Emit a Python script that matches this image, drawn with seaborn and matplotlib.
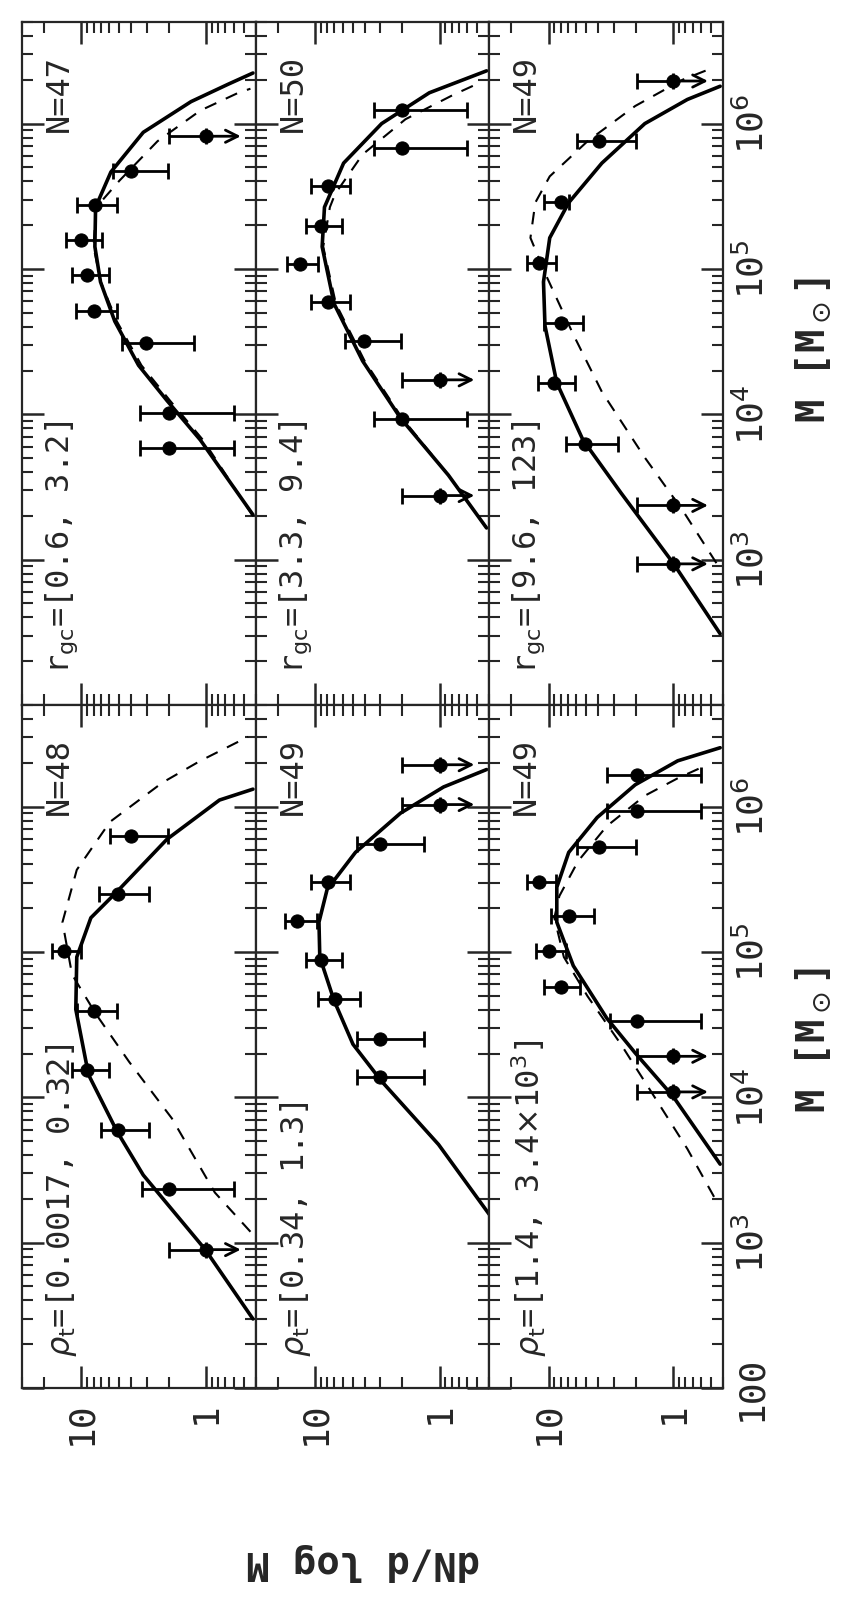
import numpy as np
import matplotlib
matplotlib.use("Agg")
import matplotlib.pyplot as plt
from matplotlib.ticker import LogLocator, NullFormatter, FixedFormatter, FixedLocator
import seaborn as sns

sns.set_style("ticks")
plt.rcParams['font.family'] = ['DejaVu Sans Mono', 'DejaVu Sans']
plt.rcParams['mathtext.fontset'] = 'dejavusans'

# ---- data (log10 M, dN/dlogM) ----
# top block: r_gc bins ; bottom block: rho_t bins
r_bins = ['[0.6, 3.2]', '[3.3, 9.4]', '[9.6, 123]']
r_counts = [47, 50, 49]
rho_bins = ['[0.0017, 0.32]', '[0.34, 1.3]', r'[1.4, 3.4$\times$10$^3$]']
rho_counts = [48, 49, 49]

# detections: logM, dN, upper end of bar, lower end of bar
R0_logm = [5.675, 5.442, 5.198, 4.959, 4.714, 4.493, 4.009, 3.770]
R0_dn = [4.02, 7.84, 10.0, 9.03, 8.0, 3.05, 1.97, 1.97]
R0_hi = [5.61, 10.8, 13.3, 12.0, 11.1, 4.72, 3.38, 3.38]
R0_lo = [2.03, 5.22, 6.87, 6.03, 5.22, 1.26, 0.60, 0.60]
R0_lim_logm = [5.913]
R0_lim_hi = [1.97]

R1_logm = [6.093, 5.832, 5.570, 5.297, 5.031, 4.770, 4.502, 3.971]
R1_dn = [2.0, 2.0, 7.92, 8.95, 13.1, 7.92, 4.02, 2.0]
R1_hi = [3.38, 3.38, 10.7, 11.9, 16.8, 10.7, 5.73, 3.38]
R1_lo = [0.60, 0.60, 5.27, 6.08, 9.5, 5.27, 2.03, 0.60]
R1_lim_logm = [4.237, 3.441]
R1_lim_hi = [2.0, 2.0]

R2_logm = [5.879, 5.459, 5.043, 4.629, 4.213, 3.793]
R2_dn = [3.94, 8.0, 12.0, 8.0, 9.04, 5.07]
R2_hi = [5.9, 10.8, 15.0, 10.8, 12.2, 7.23]
R2_lo = [2.0, 6.87, 8.67, 5.33, 6.2, 2.76]
R2_lim_logm = [6.293, 3.373, 2.971]
R2_lim_hi = [1.97, 1.97, 1.97]

P0_logm = [5.80, 5.40, 5.008, 4.597, 4.186, 3.775, 3.368]
P0_dn = [4.02, 5.07, 13.8, 8.0, 9.03, 5.07, 2.0]
P0_hi = [5.9, 7.23, 17.1, 10.8, 12.0, 7.0, 3.28]
P0_lo = [2.03, 2.85, 10.0, 5.22, 6.03, 2.85, 0.60]
P0_lim_logm = [2.952]
P0_lim_hi = [1.97]

P1_logm = [5.746, 5.478, 5.211, 4.946, 4.678, 4.404, 4.141]
P1_dn = [2.99, 7.92, 14.0, 8.95, 6.87, 2.99, 2.99]
P1_hi = [4.58, 10.7, 17.5, 11.9, 9.5, 4.58, 4.58]
P1_lo = [1.33, 5.27, 9.7, 6.08, 4.35, 1.33, 1.33]
P1_lim_logm = [6.288, 6.014]
P1_lim_hi = [2.0, 2.0]

P2_logm = [6.215, 5.968, 5.725, 5.481, 5.248, 5.008, 4.762, 4.525]
P2_dn = [1.97, 1.97, 3.94, 12.0, 6.87, 10.0, 8.0, 1.97]
P2_hi = [3.38, 3.38, 5.9, 15.0, 9.6, 12.6, 10.8, 3.2]
P2_lo = [0.60, 0.60, 2.0, 8.67, 4.35, 7.23, 5.6, 0.60]
P2_lim_logm = [4.282, 4.037]
P2_lim_hi = [1.94, 1.94]

# model curves (solid and dashed)
R0_sol_logm = [3.309, 3.823, 4.095, 4.337, 4.64, 4.911, 5.153, 5.425, 5.667, 5.94, 6.151, 6.272, 6.348]
R0_sol_dn = [0.42, 1.11, 2.06, 3.48, 5.4, 7.03, 7.8, 7.7, 5.8, 3.19, 1.32, 0.66, 0.42]
R0_das_logm = [3.30, 3.82, 4.095, 4.337, 4.64, 4.911, 5.153, 5.425, 5.607, 5.879, 6.09, 6.212, 6.24]
R0_das_dn = [0.42, 1.05, 1.95, 3.3, 5.2, 7.0, 8.0, 7.6, 4.96, 2.45, 1.11, 0.55, 0.44]

R1_sol_logm = [3.218, 3.581, 3.974, 4.367, 4.76, 5.153, 5.425, 5.728, 6.0, 6.212, 6.363]
R1_sol_dn = [0.42, 0.85, 2.06, 4.15, 7.03, 8.77, 8.4, 5.9, 2.92, 1.21, 0.42]
R1_das_logm = [3.218, 3.581, 3.974, 4.367, 4.76, 5.153, 5.425, 5.516, 5.788, 6.03, 6.197, 6.287]
R1_das_dn = [0.42, 0.85, 2.0, 4.0, 6.8, 8.6, 7.6, 6.9, 4.15, 1.88, 0.78, 0.46]

R2_sol_logm = [2.49, 2.976, 3.46, 3.823, 4.216, 4.609, 4.911, 5.214, 5.456, 5.728, 6.0, 6.166, 6.257]
R2_sol_dn = [0.42, 1.0, 2.63, 5.3, 8.6, 10.7, 11.0, 9.8, 6.9, 3.74, 1.69, 0.77, 0.42]
R2_das_logm = [2.976, 3.339, 3.702, 4.155, 4.549, 4.972, 5.214, 5.456, 5.637, 5.879, 6.121, 6.302, 6.378]
R2_das_dn = [0.45, 0.84, 1.69, 3.74, 6.34, 10.7, 14.0, 12.8, 9.8, 4.87, 2.02, 0.84, 0.5]

P0_sol_logm = [2.475, 2.955, 3.465, 3.765, 4.155, 4.605, 4.965, 5.235, 5.415, 5.775, 6.045, 6.12]
P0_sol_dn = [0.42, 1.02, 3.19, 5.18, 8.77, 11.1, 10.9, 8.4, 5.18, 2.06, 0.78, 0.42]
P0_das_logm = [3.075, 3.345, 3.855, 4.245, 4.575, 4.845, 5.205, 5.565, 5.895, 6.165, 6.315, 6.48]
P0_das_dn = [0.44, 0.85, 1.88, 4.15, 7.68, 11.9, 14.2, 10.9, 5.9, 2.24, 1.11, 0.46]

P1_sol_logm = [3.195, 3.675, 4.11, 4.365, 4.665, 4.965, 5.205, 5.43, 5.685, 5.955, 6.135, 6.255]
P1_sol_dn = [0.40, 1.02, 2.92, 4.96, 7.03, 9.16, 9.3, 8.0, 4.74, 2.06, 0.93, 0.42]
P1_das_logm = P1_sol_logm
P1_das_dn = P1_sol_dn

P2_sol_logm = [3.54, 4.005, 4.305, 4.545, 4.905, 5.205, 5.445, 5.685, 5.925, 6.15, 6.315, 6.405]
P2_sol_dn = [0.42, 1.0, 2.02, 3.42, 6.34, 8.6, 8.6, 6.9, 4.08, 2.02, 0.92, 0.42]
P2_das_logm = [3.315, 3.645, 4.005, 4.365, 4.695, 4.965, 5.235, 5.385, 5.625, 5.865, 6.075, 6.195, 6.27]
P2_das_dn = [0.47, 0.77, 1.42, 2.63, 4.87, 7.55, 9.0, 8.2, 5.8, 3.42, 1.69, 0.92, 0.59]

top = [
    (R0_logm, R0_dn, R0_hi, R0_lo, R0_lim_logm, R0_lim_hi, R0_sol_logm, R0_sol_dn, R0_das_logm, R0_das_dn),
    (R1_logm, R1_dn, R1_hi, R1_lo, R1_lim_logm, R1_lim_hi, R1_sol_logm, R1_sol_dn, R1_das_logm, R1_das_dn),
    (R2_logm, R2_dn, R2_hi, R2_lo, R2_lim_logm, R2_lim_hi, R2_sol_logm, R2_sol_dn, R2_das_logm, R2_das_dn),
]
bottom = [
    (P0_logm, P0_dn, P0_hi, P0_lo, P0_lim_logm, P0_lim_hi, P0_sol_logm, P0_sol_dn, P0_das_logm, P0_das_dn),
    (P1_logm, P1_dn, P1_hi, P1_lo, P1_lim_logm, P1_lim_hi, P1_sol_logm, P1_sol_dn, P1_das_logm, P1_das_dn),
    (P2_logm, P2_dn, P2_hi, P2_lo, P2_lim_logm, P2_lim_hi, P2_sol_logm, P2_sol_dn, P2_das_logm, P2_das_dn),
]

W, H = 852, 1600
fig = plt.figure(figsize=(W / 100, H / 100), dpi=100)
strip_x = [22, 255.6, 489.2]
strip_w = 233.6
block_y = {'top': (22, 705), 'bottom': (705, 1388)}


def draw_panel(ax, d):
    logm, dn, hi, lo, lim_logm, lim_hi, sl, sd, dl, dd = d
    m = 10 ** np.array(logm)
    dn = np.array(dn)
    sns.lineplot(x=sd, y=10 ** np.array(sl), sort=False, estimator=None, color='k', lw=2.6, ax=ax)
    sns.lineplot(x=dd, y=10 ** np.array(dl), sort=False, estimator=None, color='k', lw=1.5,
                 linestyle=(0, (6, 5)), ax=ax)
    ax.errorbar(dn, m, xerr=[dn - np.array(lo), np.array(hi) - dn], fmt='none',
                ecolor='k', elinewidth=2, capsize=6, capthick=2)
    sns.scatterplot(x=dn, y=m, color='k', s=90, edgecolor='k', zorder=5, ax=ax)
    lm = 10 ** np.array(lim_logm)
    ones = np.ones(len(lm))
    ax.errorbar(ones, lm, xerr=[np.zeros(len(lm)), np.array(lim_hi) - ones], fmt='none',
                ecolor='k', elinewidth=2, capsize=6, capthick=2)
    sns.scatterplot(x=ones, y=lm, color='k', s=90, edgecolor='k', zorder=5, ax=ax)
    for y in lm:
        ax.annotate('', xy=(0.5, y), xytext=(1.0, y),
                    arrowprops=dict(arrowstyle='->', color='k', lw=2, mutation_scale=22))


for block, data, counts, bins, lab in [('top', top, r_counts, r_bins, r'r$_{\rm gc}$'),
                                        ('bottom', bottom, rho_counts, rho_bins, r'$\rho_{\rm t}$')]:
    y0, y1 = block_y[block]
    for s in range(3):
        ax = fig.add_axes([strip_x[s] / W, 1 - y1 / H, strip_w / W, (y1 - y0) / H])
        draw_panel(ax, data[s])
        ax.set_xscale('log')
        ax.set_yscale('log')
        ax.set_xlim(30, 0.4)
        ax.set_ylim(100, 5e6)
        ax.set_xlabel('')
        ax.set_ylabel('')
        for sp in ax.spines.values():
            sp.set_linewidth(1.6)
        ax.yaxis.set_major_locator(FixedLocator([1e2, 1e3, 1e4, 1e5, 1e6]))
        ax.yaxis.set_minor_locator(LogLocator(base=10, subs=np.arange(2, 10)))
        ax.xaxis.set_major_locator(FixedLocator([1, 10]))
        ax.xaxis.set_minor_locator(LogLocator(base=10, subs=np.arange(2, 10)))
        ax.tick_params(which='both', direction='in', top=True, bottom=True, left=True, right=True,
                       labelleft=False, labeltop=False, labelbottom=False, labelright=False)
        ax.tick_params(which='major', length=16, width=1.8)
        ax.tick_params(which='minor', length=8, width=1.5)
        if s == 2:
            ylabs = ['100', r'10$^3$', r'10$^4$', r'10$^5$', r'10$^6$']
            if block == 'top':
                ylabs[0] = ''
            ax.yaxis.set_major_formatter(FixedFormatter(ylabs))
            ax.yaxis.set_minor_formatter(NullFormatter())
            ax.tick_params(axis='y', labelright=True, labelsize=26, pad=8)
            for t in ax.get_yticklabels():
                t.set_rotation(90)
                t.set_va('center')
        if block == 'bottom':
            ax.xaxis.set_major_formatter(FixedFormatter(['1', '10']))
            ax.xaxis.set_minor_formatter(NullFormatter())
            ax.tick_params(axis='x', labelbottom=True, labelsize=26, pad=10)
            for t in ax.get_xticklabels():
                t.set_rotation(90)
        ax.text(0.16, 0.895, f'N={counts[s]}', transform=ax.transAxes, rotation=90,
                ha='center', va='center', fontsize=23)
        ax.text(0.17, 0.045, f'{lab}={bins[s]}', transform=ax.transAxes, rotation=90,
                rotation_mode='anchor', ha='left', va='center', fontsize=23)

# axis titles
fig.text(813 / W, 1 - 350 / H, r'M [M$_\odot$]', rotation=90, ha='center', va='center',
         fontsize=28, fontweight='bold')
fig.text(813 / W, 1 - 1040 / H, r'M [M$_\odot$]', rotation=90, ha='center', va='center',
         fontsize=28, fontweight='bold')
fig.text(363 / W, 1 - 1562 / H, 'dN/d log M', rotation=180, ha='center', va='center',
         fontsize=28, fontweight='bold')

fig.savefig('out.png', dpi=100, facecolor='white')
